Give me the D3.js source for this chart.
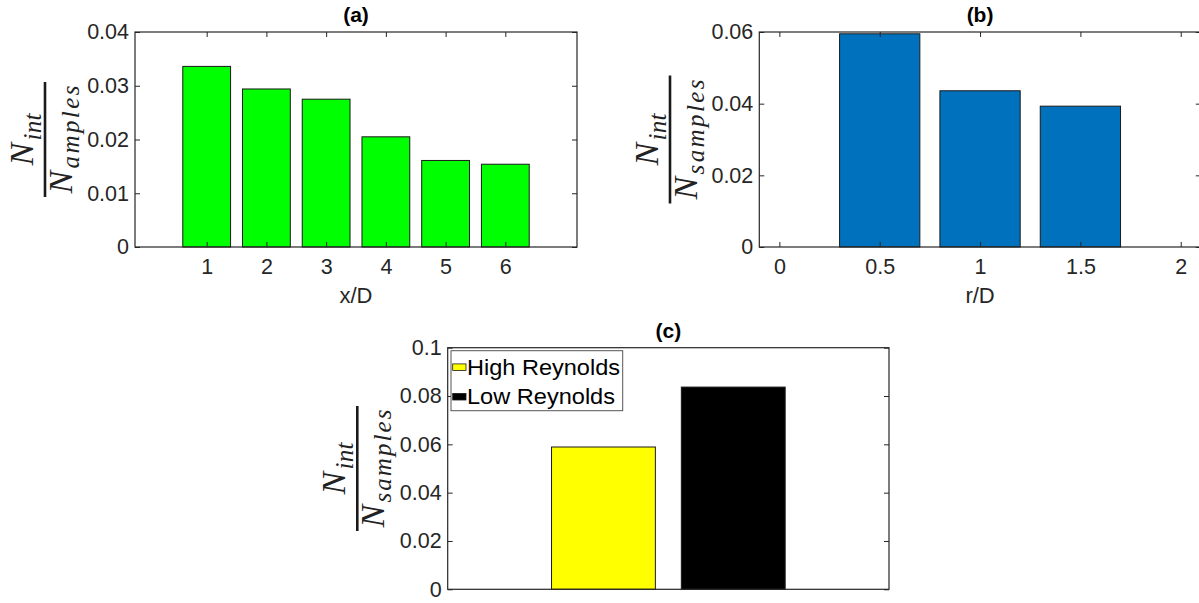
<!DOCTYPE html>
<html>
<head>
<meta charset="utf-8">
<script src="https://cdn.jsdelivr.net/npm/d3@7/dist/d3.min.js"></script>
<style>
  html, body { margin: 0; padding: 0; background: #fff; }
  svg { display: block; }
</style>
</head>
<body>
<svg id="chart" width="1199" height="603"></svg>
<script>
// ---------- data ----------
const xCatsA = [1, 2, 3, 4, 5, 6];
const valuesA = [0.0336, 0.0294, 0.0275, 0.0205, 0.0161, 0.0154];
const yTicksA = [0, 0.01, 0.02, 0.03, 0.04];
const yTickLabelsA = ["0", "0.01", "0.02", "0.03", "0.04"];
const xTicksA = [1, 2, 3, 4, 5, 6];

const rCatsB = [0.5, 1, 1.5];
const valuesB = [0.0595, 0.0436, 0.0393];
const yTicksB = [0, 0.02, 0.04, 0.06];
const yTickLabelsB = ["0", "0.02", "0.04", "0.06"];
const xTicksB = [0, 0.5, 1, 1.5, 2];
const xTickLabelsB = ["0", "0.5", "1", "1.5", "2"];

const groupsC = ["High Reynolds", "Low Reynolds"];
const xPosC = [1, 2];
const valuesC = [0.0589, 0.0837];
const colorsC = ["#ffff00", "#000000"];
const yTicksC = [0, 0.02, 0.04, 0.06, 0.08, 0.1];
const yTickLabelsC = ["0", "0.02", "0.04", "0.06", "0.08", "0.1"];

// ---------- drawing ----------
const svg = d3.select("#chart");
const AX = "#262626";
const SANS = "'Liberation Sans', Arial, Helvetica, sans-serif";
const SERIF = "'Liberation Serif', 'Times New Roman', serif";

function panel(cfg) {
  const x = d3.scaleLinear().domain(cfg.xDomain).range([cfg.left, cfg.right]);
  const y = d3.scaleLinear().domain(cfg.yDomain).range([cfg.bottom, cfg.top]);
  const g = svg.append("g");

  // bars
  g.selectAll("rect.bar").data(cfg.xs).enter().append("rect")
    .attr("class", "bar")
    .attr("x", (d) => x(d - cfg.barW / 2))
    .attr("width", (d) => x(d + cfg.barW / 2) - x(d - cfg.barW / 2))
    .attr("y", (d, i) => y(cfg.values[i]))
    .attr("height", (d, i) => y(0) - y(cfg.values[i]))
    .attr("fill", (d, i) => Array.isArray(cfg.color) ? cfg.color[i] : cfg.color)
    .attr("stroke", "#1a1a1a")
    .attr("stroke-width", 1);

  function styleAxis(sel) {
    sel.attr("font-size", null).attr("font-family", null).attr("color", AX);
    sel.select(".domain").remove();
    sel.selectAll("line").attr("stroke-width", 1);
    sel.selectAll("text").style("font-family", SANS).style("font-size", "21.5px").attr("fill", AX);
  }

  // left axis
  const yl = g.append("g").attr("transform", `translate(${cfg.left},0)`)
    .call(d3.axisLeft(y).tickValues(cfg.yTicks)
      .tickFormat((d, i) => cfg.yTickLabels[i]).tickSizeInner(-5).tickSizeOuter(0).tickPadding(6));
  styleAxis(yl);
  // right axis
  const yr = g.append("g").attr("transform", `translate(${cfg.right},0)`)
    .call(d3.axisRight(y).tickValues(cfg.yTicks).tickFormat("").tickSizeInner(-5).tickSizeOuter(0));
  styleAxis(yr);

  if (cfg.xTicks) {
    const xb = g.append("g").attr("transform", `translate(0,${cfg.bottom})`)
      .call(d3.axisBottom(x).tickValues(cfg.xTicks)
        .tickFormat((d, i) => cfg.xTickLabels ? cfg.xTickLabels[i] : String(d))
        .tickSizeInner(-5).tickSizeOuter(0).tickPadding(12));
    styleAxis(xb);
    const xt = g.append("g").attr("transform", `translate(0,${cfg.top})`)
      .call(d3.axisTop(x).tickValues(cfg.xTicks).tickFormat("").tickSizeInner(-5).tickSizeOuter(0));
    styleAxis(xt);
  }

  // box
  g.append("rect")
    .attr("x", cfg.left).attr("y", cfg.top)
    .attr("width", cfg.right - cfg.left).attr("height", cfg.bottom - cfg.top)
    .attr("fill", "none").attr("stroke", AX).attr("stroke-width", 1.2);

  // title
  g.append("text")
    .attr("x", (cfg.left + cfg.right) / 2).attr("y", cfg.top - 10)
    .attr("text-anchor", "middle")
    .style("font-family", SANS).style("font-size", "21px").style("font-weight", "bold")
    .attr("fill", "#000").text(cfg.title);

  // x label
  if (cfg.xLabel) {
    g.append("text")
      .attr("x", (cfg.left + cfg.right) / 2).attr("y", cfg.bottom + 56)
      .attr("text-anchor", "middle")
      .style("font-family", SANS).style("font-size", "22px")
      .attr("fill", AX).text(cfg.xLabel);
  }

  // y label fraction
  const f = cfg.frac;
  const fg = g.append("g").attr("transform", `translate(${f.x},${(cfg.top + cfg.bottom) / 2}) rotate(-90)`);
  const L = f.barLen;
  fg.append("line").attr("x1", -L / 2).attr("x2", L / 2).attr("y1", 0).attr("y2", 0)
    .attr("stroke", "#1a1a1a").attr("stroke-width", 2.6);
  const NW = 24;
  const MATH = "#222";
  // numerator
  const numW = NW + f.numSubLen;
  fg.append("text").attr("x", -numW / 2).attr("y", -12)
    .style("font-family", SERIF).style("font-style", "italic").style("font-size", "34px")
    .attr("fill", MATH).text("N");
  fg.append("text").attr("x", -numW / 2 + NW + 1).attr("y", -4)
    .attr("textLength", f.numSubLen - 1).attr("lengthAdjust", "spacing")
    .style("font-family", SERIF).style("font-style", "italic").style("font-size", "25px")
    .attr("fill", MATH).text(f.numSub);
  // denominator
  const denW = NW + f.denSubLen;
  fg.append("text").attr("x", -denW / 2).attr("y", 27)
    .style("font-family", SERIF).style("font-style", "italic").style("font-size", "34px")
    .attr("fill", MATH).text("N");
  fg.append("text").attr("x", -denW / 2 + NW + 1).attr("y", 34)
    .attr("textLength", f.denSubLen - 1).attr("lengthAdjust", "spacing")
    .style("font-family", SERIF).style("font-style", "italic").style("font-size", "25px")
    .attr("fill", MATH).text(f.denSub);

  return { x, y, g };
}

panel({
  left: 135, right: 577, top: 32, bottom: 247,
  xDomain: [-0.2, 7.2], yDomain: [0, 0.04],
  xs: xCatsA, values: valuesA, barW: 0.8, color: "#00ff00",
  yTicks: yTicksA, yTickLabels: yTickLabelsA, xTicks: xTicksA,
  title: "(a)", xLabel: "x/D",
  frac: { x: 45, barLen: 115, numSub: "int", numSubLen: 28, denSub: "amples", denSubLen: 84 }
});

panel({
  left: 759.3, right: 1200.8, top: 32, bottom: 247,
  xDomain: [-0.1, 2.1], yDomain: [0, 0.06],
  xs: rCatsB, values: valuesB, barW: 0.4, color: "#0072bd",
  yTicks: yTicksB, yTickLabels: yTickLabelsB, xTicks: xTicksB, xTickLabels: xTickLabelsB,
  title: "(b)", xLabel: "r/D",
  frac: { x: 670, barLen: 128, numSub: "int", numSubLen: 28, denSub: "samples", denSubLen: 96 }
});

panel({
  left: 447.7, right: 889, top: 347.7, bottom: 589.3,
  xDomain: [-0.2, 3.2], yDomain: [0, 0.1],
  xs: xPosC, values: valuesC, barW: 0.8, color: colorsC,
  yTicks: yTicksC, yTickLabels: yTickLabelsC, xTicks: null,
  title: "(c)", xLabel: null,
  frac: { x: 357.3, barLen: 125, numSub: "int", numSubLen: 28, denSub: "samples", denSubLen: 94 }
});

// legend for (c)
const legendTextLen = [153, 148];
const lg = svg.append("g").attr("transform", "translate(451,350.7)");
lg.append("rect").attr("x", 0).attr("y", 0).attr("width", 171.7).attr("height", 60)
  .attr("fill", "#fff").attr("stroke", "#555").attr("stroke-width", 1);
const rowH = 29.5;
groupsC.forEach((name, i) => {
  const cy = 16.5 + i * rowH;
  lg.append("rect").attr("x", 1.7).attr("y", cy - 3.3).attr("width", 13.3).attr("height", 6.6)
    .attr("fill", colorsC[i]).attr("stroke", "#1a1a1a").attr("stroke-width", 0.8);
  lg.append("text").attr("x", 16).attr("y", cy + 7.5)
    .attr("textLength", legendTextLen[i]).attr("lengthAdjust", "spacingAndGlyphs")
    .style("font-family", SANS).style("font-size", "22.5px")
    .attr("fill", "#000").text(name);
});
</script>
</body>
</html>
